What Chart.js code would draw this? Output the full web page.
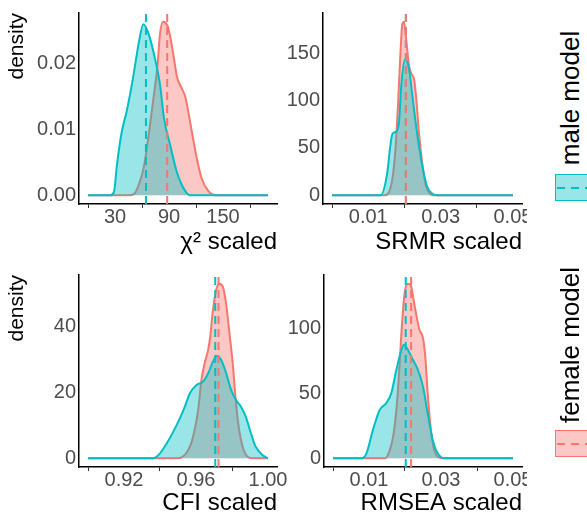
<!DOCTYPE html>
<html><head><meta charset="utf-8">
<script src="https://cdn.jsdelivr.net/npm/chart.js@4/dist/chart.umd.min.js"></script>
<style>
html,body{margin:0;padding:0;background:#fff;width:587px;height:514px;overflow:hidden;position:relative;font-family:"Liberation Sans",Arial,sans-serif;}
canvas{position:absolute;}
.lg{position:absolute;font-size:26px;color:#000;white-space:nowrap;line-height:1;transform:translate(-50%,-50%) rotate(-90deg);}
.key{position:absolute;box-sizing:border-box;width:34px;height:27px;border-width:1.5px;border-style:solid;}
.dash{position:absolute;left:0;right:0;top:50%;height:2px;margin-top:-1px;}
</style></head><body>
<canvas id="p1"></canvas><canvas id="p2"></canvas><canvas id="p3"></canvas><canvas id="p4"></canvas>
<div class="lg" id="lgM" style="left:570px;top:98px;">male model</div>
<div class="key" id="keyM" style="left:555px;top:174px;"><div class="dash" id="dashM"></div></div>
<div class="lg" id="lgF" style="left:570px;top:345px;">female model</div>
<div class="key" id="keyF" style="left:555px;top:430px;"><div class="dash" id="dashF"></div></div>
<script>
// ---------------- data ----------------
const seriesNames = ['male model', 'female model'];

// χ² scaled
const chiMaleX   = [0, 25, 29, 32, 37.2, 43.1, 49.4, 53, 56.7, 61.5, 67.7, 75.1, 80, 84.3, 91.7, 99, 108.3, 113.8, 200];
const chiMaleY   = [0, 0, 0.0006, 0.0044, 0.0094, 0.0128, 0.0173, 0.0203, 0.0233, 0.0259, 0.0243, 0.0203, 0.0168, 0.0118, 0.0074, 0.0034, 0.0006, 0, 0];
const chiFemaleX = [0, 45, 51.2, 57, 62.2, 67.7, 73.3, 77, 79.9, 83.2, 88, 91.7, 95.4, 99.1, 104.6, 108.3, 111.9, 115.7, 121.2, 126.7, 134, 141.4, 200];
const chiFemaleY = [0, 0, 0.0002, 0.0018, 0.0044, 0.0094, 0.0153, 0.0193, 0.0243, 0.0263, 0.0258, 0.0238, 0.0208, 0.0178, 0.0161, 0.0148, 0.0123, 0.0094, 0.0054, 0.0024, 0.0006, 0, 0];
const chiMeans   = [64.4, 88];
const chiBreaks  = [0, 30, 60, 90, 120, 150, 180];
const chiLabels  = ['', '30', '', '90', '', '150', ''];
const chiYBreaks = [0, 0.01, 0.02];
const chiYLabels = ['0.00', '0.01', '0.02'];

// SRMR scaled
const srmrMaleX   = [0, 0.0134, 0.0153, 0.0160, 0.0167, 0.0178, 0.0185, 0.0192, 0.0202, 0.0213, 0.0222, 0.0231, 0.0240, 0.0251, 0.0263, 0.0277, 0.029, 0.05];
const srmrMaleY   = [0, 0, 24.8, 49, 64.9, 67.3, 77, 119, 143.3, 132.8, 105, 77, 52.6, 28, 9, 2, 0, 0];
const srmrFemaleX = [0, 0.0146, 0.0167, 0.0176, 0.0183, 0.0190, 0.0194, 0.0199, 0.0205, 0.0213, 0.0220, 0.0227, 0.0233, 0.0240, 0.0250, 0.0259, 0.0270, 0.028, 0.05];
const srmrFemaleY = [0, 0, 17.8, 52.6, 101, 157, 180, 183, 164, 136, 127.6, 122, 101, 66.6, 31.7, 10.8, 2, 0, 0];
const srmrMeans   = [0.0204, 0.0204];
const srmrBreaks  = [0, 0.01, 0.02, 0.03, 0.04, 0.05];
const srmrLabels  = ['', '0.01', '', '0.03', '', '0.05'];
const srmrYBreaks = [0, 50, 100, 150];
const srmrYLabels = ['0', '50', '100', '150'];

// CFI scaled
const cfiMaleX   = [0.9, 0.936, 0.940, 0.9438, 0.9474, 0.9511, 0.9538, 0.9566, 0.9603, 0.9639, 0.9667, 0.9694, 0.9716, 0.974, 0.9768, 0.9795, 0.9822, 0.985, 0.9877, 0.9905, 0.9932, 0.9969, 1.0];
const cfiMaleY   = [0, 0, 1.5, 4.6, 8.1, 12.2, 15.7, 19.8, 22.3, 23.3, 25.8, 29.4, 31.1, 29.9, 25.8, 20.8, 17.7, 15.7, 12.6, 7.6, 3.5, 1, 0];
const cfiFemaleX = [0.9, 0.950, 0.9557, 0.9584, 0.9612, 0.963, 0.9648, 0.9667, 0.9679, 0.9694, 0.9712, 0.973, 0.9749, 0.9767, 0.9786, 0.9804, 0.9819, 0.9837, 0.9859, 0.9886, 0.9914, 1.0];
const cfiFemaleY = [0, 0, 2.5, 6.6, 14.7, 23.8, 28.9, 32.9, 37, 45, 51.2, 53.1, 52.2, 47.1, 38, 28.9, 18.7, 9.6, 3.5, 0.5, 0, 0];
const cfiMeans   = [0.9707, 0.9725];
const cfiBreaks  = [0.90, 0.92, 0.94, 0.96, 0.98, 1.00];
const cfiLabels  = ['', '0.92', '', '0.96', '', '1.00'];
const cfiYBreaks = [0, 20, 40];
const cfiYLabels = ['0', '20', '40'];

// RMSEA scaled
const rmseaMaleX   = [0, 0.0079, 0.0093, 0.0111, 0.0130, 0.0148, 0.0162, 0.0176, 0.0190, 0.0197, 0.0208, 0.0222, 0.0236, 0.0250, 0.0263, 0.0277, 0.0291, 0.0309, 0.05];
const rmseaMaleY   = [0, 0, 3.8, 21.8, 37.2, 42.3, 50, 67.9, 83.3, 87.2, 83.3, 75.6, 67.9, 55, 34.6, 14.1, 3.8, 0, 0];
const rmseaFemaleX = [0, 0.0145, 0.0158, 0.0167, 0.0176, 0.0183, 0.0190, 0.0199, 0.0208, 0.0217, 0.0227, 0.0240, 0.0250, 0.0257, 0.0263, 0.0270, 0.0279, 0.0291, 0.0305, 0.05];
const rmseaFemaleY = [0, 0, 6.4, 16.6, 37.2, 62.8, 96.2, 127, 134, 132, 116.6, 98.7, 92.3, 75.6, 50, 26.9, 8.9, 1.2, 0, 0];
const rmseaMeans   = [0.0202, 0.0217];
const rmseaBreaks  = [0, 0.01, 0.02, 0.03, 0.04, 0.05];
const rmseaLabels  = ['', '0.01', '', '0.03', '', '0.05'];
const rmseaYBreaks = [0, 50, 100];
const rmseaYLabels = ['0', '50', '100'];

// ---------------- styling ----------------
const FONT = '"Liberation Sans", Arial, sans-serif';
const TEAL = '#00BFC4', RED = '#F8766D';
const TEAL_FILL = 'rgba(0,191,196,0.4)', RED_FILL = 'rgba(248,118,109,0.4)';

document.getElementById('keyM').style.borderColor = TEAL;
document.getElementById('keyM').style.background = TEAL_FILL;
document.getElementById('dashM').style.background = `repeating-linear-gradient(90deg, transparent 0 1px, ${TEAL} 1px 9px, transparent 9px 14px)`;
document.getElementById('keyF').style.borderColor = RED;
document.getElementById('keyF').style.background = RED_FILL;
document.getElementById('dashF').style.background = `repeating-linear-gradient(90deg, transparent 0 1px, ${RED} 1px 9px, transparent 9px 14px)`;

function pts(xs, ys) { return xs.map((x, i) => ({x: x, y: ys[i]})); }

function panel(id, box, area, mX, mY, fX, fY, means, xB, xL, yB, yL, xTitle, yTitle, xTitlePad) {
  const cv = document.getElementById(id);
  cv.width = box.w; cv.height = box.h;
  cv.style.left = box.x + 'px'; cv.style.top = box.y + 'px';
  cv.style.width = box.w + 'px'; cv.style.height = box.h + 'px';
  const allX = mX.concat(fX);
  const xmin = Math.min(...allX), xmax = Math.max(...allX), xr = xmax - xmin;
  const ymax = Math.max(...mY, ...fY);
  const y0 = -0.05 * ymax, y1 = 1.05 * ymax;
  const dens = (label, data, c, f) => ({label, data, borderColor: c, backgroundColor: f, borderWidth: 2,
    fill: 'origin', pointRadius: 0, cubicInterpolationMode: 'monotone'});
  const vline = (label, m, c) => ({label, data: [{x: m, y: y0}, {x: m, y: y1}], borderColor: c, borderWidth: 2,
    borderDash: [8, 5], fill: false, pointRadius: 0, tension: 0});
  new Chart(cv, {
    type: 'line',
    data: { datasets: [
      vline(seriesNames[1] + ' mean', means[1], RED),
      vline(seriesNames[0] + ' mean', means[0], TEAL),
      dens(seriesNames[0], pts(mX, mY), TEAL, TEAL_FILL),
      dens(seriesNames[1], pts(fX, fY), RED, RED_FILL)
    ]},
    options: {
      responsive: false, animation: false, devicePixelRatio: 1,
      layout: { padding: { left: 0, top: area.t, right: box.w - area.r, bottom: 0 } },
      plugins: { legend: { display: false }, tooltip: { enabled: false } },
      scales: {
        x: {
          type: 'linear', min: xmin - 0.05 * xr, max: xmax + 0.05 * xr,
          afterBuildTicks: s => { s.ticks = xB.map(v => ({value: v})); },
          afterFit: s => { s.height = box.h - area.b; s.paddingLeft = 0; s.paddingRight = 0; },
          ticks: { autoSkip: false, maxRotation: 0, minRotation: 0, padding: -1, color: '#4D4D4D',
            font: { family: FONT, size: 20, lineHeight: 1 }, callback: (v, i) => xL[i] },
          grid: { display: true, drawOnChartArea: false, drawTicks: true, tickLength: 4, lineWidth: 1,
            color: c => (xL[c.index] === '') ? '#333333' : 'rgba(0,0,0,0)' },
          border: { display: true, color: '#000', width: 1.5 },
          title: { display: true, text: xTitle, align: 'end', color: '#000',
            font: { family: FONT, size: 24, lineHeight: 1.2 }, padding: { top: 0, bottom: xTitlePad } }
        },
        y: {
          type: 'linear', min: y0, max: y1,
          afterBuildTicks: s => { s.ticks = yB.map(v => ({value: v})); },
          afterFit: s => { s.width = area.l; s.paddingTop = 0; s.paddingBottom = 0; },
          ticks: { padding: 3, color: '#4D4D4D', font: { family: FONT, size: 20, lineHeight: 1 },
            callback: (v, i) => yL[i] },
          grid: { display: false, drawTicks: false },
          border: { display: true, color: '#000', width: 1.5 },
          title: yTitle ? { display: true, text: yTitle, align: 'end', color: '#000',
            font: { family: FONT, size: 21, lineHeight: 1.2 }, padding: { top: 5, bottom: 0 } } : { display: false }
        }
      }
    }
  });
}

panel('p1', {x: 0, y: 0, w: 290, h: 262}, {l: 79, r: 277, t: 13, b: 204},
  chiMaleX, chiMaleY, chiFemaleX, chiFemaleY, chiMeans, chiBreaks, chiLabels, chiYBreaks, chiYLabels,
  'χ² scaled', 'density', 5);
panel('p2', {x: 282, y: 0, w: 245, h: 262}, {l: 41, r: 240, t: 13, b: 204},
  srmrMaleX, srmrMaleY, srmrFemaleX, srmrFemaleY, srmrMeans, srmrBreaks, srmrLabels, srmrYBreaks, srmrYLabels,
  'SRMR scaled', null, 5);
panel('p3', {x: 0, y: 262, w: 290, h: 262}, {l: 79, r: 277, t: 13, b: 205},
  cfiMaleX, cfiMaleY, cfiFemaleX, cfiFemaleY, cfiMeans, cfiBreaks, cfiLabels, cfiYBreaks, cfiYLabels,
  'CFI scaled', 'density', 6);
panel('p4', {x: 282, y: 262, w: 245, h: 262}, {l: 42, r: 240, t: 13, b: 205},
  rmseaMaleX, rmseaMaleY, rmseaFemaleX, rmseaFemaleY, rmseaMeans, rmseaBreaks, rmseaLabels, rmseaYBreaks, rmseaYLabels,
  'RMSEA scaled', null, 6);
</script>
</body></html>
